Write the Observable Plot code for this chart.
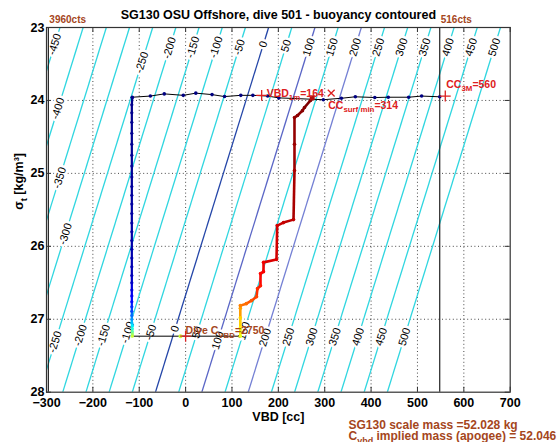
<!DOCTYPE html>
<html><head><meta charset="utf-8">
<script src="https://cdn.jsdelivr.net/npm/d3@7"></script>
<script src="https://cdn.jsdelivr.net/npm/@observablehq/plot@0.6"></script>
<style>html,body{margin:0;padding:0;background:#fff;overflow:hidden} svg{display:block}</style>
</head><body><div id="chart"></div>
<script>
// ---------- data ----------
const titleText = "SG130 OSU Offshore, dive 501 - buoyancy contoured";
const xTicks = [-300,-200,-100,0,100,200,300,400,500,600,700];
const yTicks = [23,24,25,26,27,28];

// buoyancy contours: VBD [cc] where each contour crosses sigma=23 and sigma=28
const contourLevels   = [-450,-400,-350,-300,-250,-200,-150,-100,-50,0,50,100,150,200,250,300,350,400,450,500];
const contourVBDAt23  = [-271,-221,-171,-121,-71,-21,29,79,129,179,229,279,329,379,429,479,529,579,629,679];
const contourVBDAt28  = [-515,-465,-415,-365,-315,-265,-215,-165,-115,-65,-15,35,85,135,185,235,285,335,385,435];
const blueLevels = [0,100,200];
const blueColors = ["#2446a8","#5a66c6","#7480d4"];

// contour label placements (level, sigma along that contour)
const labelLevels = [-450,-400,-350,-300,-250,-250,-200,-200,-150,-150,-100,-100,-50,-50,0,0,50,50,100,100,150,150,200,200,250,250,300,300,350,350,400,400,450,450,500,500];
const labelSigma  = [23.23,24.11,25.06,25.83,23.48,27.31,23.28,27.22,23.27,27.22,23.27,27.18,23.27,27.18,23.23,27.13,23.25,27.18,23.27,27.29,23.27,27.16,23.27,27.25,23.27,27.24,23.27,27.24,23.27,27.24,23.27,27.24,23.27,27.24,23.27,27.24];

// pot count limits
const limitVBD = [-296, 548];
const limitText = ["3960cts", "516cts"];

// surface samples (before dive), in time order
const surfaceVBD   = [548,509,481,437,408,366,336,297,201,177,145,119,84,57,22,-5,-46,-76,-115];
const surfaceSigma = [23.95,23.94,23.956,23.956,23.96,23.95,23.97,23.99,23.965,23.94,23.93,23.93,23.947,23.92,23.90,23.93,23.91,23.94,23.956];

// descent samples
const descentVBD   = [-115,-116,-116,-116,-116,-116,-116,-116,-116,-116,-116,-116,-116,-116,-116,-116,-116,-116,-116,-116,-116,-116,-116,-116,-116,-116,-116,-116,-116,-115,-115,-115,-115,-115];
const descentSigma = [23.96,24.06,24.17,24.3,24.45,24.6,24.75,24.9,25.05,25.18,25.3,25.42,25.55,25.68,25.8,25.92,26.04,26.16,26.28,26.4,26.5,26.6,26.68,26.76,26.83,26.89,26.95,27.0,27.05,27.09,27.13,27.17,27.2,27.232];
const descentTime  = [0.01,0.012,0.014,0.016,0.018,0.02,0.022,0.024,0.026,0.028,0.03,0.032,0.034,0.036,0.038,0.04,0.042,0.045,0.05,0.055,0.07,0.09,0.11,0.13,0.16,0.19,0.23,0.27,0.31,0.36,0.41,0.46,0.52,0.57];

// apogee pump
const apogeeVBD = [-115, 118];
const apogeeSigma = 27.232;
const apogeeDotVBD = -11;

// ascent samples
const ascentVBD   = [118,118,118,118,118,131,142,153,155,161.5,161.5,168,168,196,197.5,211,232.7,234.8,234.8,234.8,241.3,252,256.4,269.3,273];
const ascentSigma = [27.232,27.12,26.98,26.85,26.813,26.786,26.745,26.69,26.58,26.54,26.374,26.347,26.22,26.18,25.716,25.675,25.634,24.962,24.6,24.235,24.207,24.14,24.097,24.0,23.964];
const ascentTime  = [0.6,0.63,0.67,0.72,0.75,0.77,0.79,0.81,0.83,0.85,0.87,0.88,0.89,0.91,0.92,0.93,0.94,0.96,0.97,0.98,0.985,0.99,0.995,1,1];

// annotations
const vbd1m = 164, vbd1mSigma = 23.93;
const ccSurfMin = 314, ccSurfMinSigma = 23.9;
const cc3M = 560, cc3MSigma = 23.94;
const diveCvbd = 2750, diveCvbdVBD = 0;
const scaleMass = "52.028", impliedMass = "52.046";

// ---------- build ----------
const jetStops = ["#000080","#0000ff","#0080ff","#00ffff","#80ff80","#ffff00","#ff8000","#ff0000","#800000"];
const jet = d3.piecewise(d3.interpolateRgb, jetStops);

const contours = contourLevels.map((L,i) => ({level: L, x1: contourVBDAt23[i], x2: contourVBDAt28[i]}));
const cyanContours = contours.filter(d => !blueLevels.includes(d.level));
const labels = labelLevels.map((L,i) => {
  const c = contours.find(d => d.level === L);
  const s = labelSigma[i];
  return {level: L, text: String(L), sigma: s, vbd: c.x1 + (c.x2 - c.x1) * (s - 23) / 5};
});

const surface = surfaceVBD.map((v,i) => ({vbd: v, sigma: surfaceSigma[i], t: 0}));
const descent = descentVBD.map((v,i) => ({vbd: v, sigma: descentSigma[i], t: descentTime[i]}));
const ascent  = ascentVBD.map((v,i) => ({vbd: v, sigma: ascentSigma[i], t: ascentTime[i]}));
const blackPath = [...surface, ...descent, {vbd: apogeeVBD[1], sigma: apogeeSigma}];
const segs = arr => d3.pairs(arr).map(([a,b]) => ({x1: a.vbd, y1: a.sigma, x2: b.vbd, y2: b.sigma, t: b.t}));

const W = 559, H = 442, mL = 46, mR = 49.3, mT = 27, mB = 50.3;
const fw = W - mL - mR, fh = H - mT - mB;
// on-screen angle of the contour lines (text reads upward along them)
const dxPx = (contourVBDAt23[0] - contourVBDAt28[0]) / 1000 * fw;
const rot = -Math.atan2(fh, dxPx) * 180 / Math.PI;

const red = "#dd2020", brown = "#a5461c";
const annoFont = {fontSize: 10.5, fontWeight: "bold"};

const plot = Plot.plot({
  width: W, height: H,
  marginLeft: mL, marginRight: mR, marginTop: mT, marginBottom: mB,
  x: {domain: [-300, 700], ticks: xTicks, label: null},
  y: {domain: [23, 28], reverse: true, ticks: yTicks, label: null},
  color: {type: "linear", domain: [0, 1], interpolate: jet},
  style: {fontFamily: "'Liberation Sans', Arial, Helvetica, sans-serif", fontSize: "12.5px", fontWeight: "bold", background: "white", color: "black"},
  marks: [
    // grid
    Plot.ruleX(xTicks.slice(1, -1), {stroke: "#333", strokeDasharray: "1,2.6", strokeWidth: 0.9}),
    Plot.ruleY(yTicks.slice(1, -1), {stroke: "#333", strokeDasharray: "1,2.6", strokeWidth: 0.9}),
    // contours
    Plot.link(cyanContours, {x1: "x1", y1: () => 23, x2: "x2", y2: () => 28, stroke: "#30d6e0", strokeWidth: 1.3, clip: true}),
    ...blueLevels.map((L, i) => Plot.link(contours.filter(d => d.level === L), {x1: "x1", y1: () => 23, x2: "x2", y2: () => 28, stroke: blueColors[i], strokeWidth: 1.3, clip: true})),
    // contour labels
    Plot.text(labels, {x: "vbd", y: "sigma", text: "text", rotate: rot, fontSize: 11, fontWeight: "normal", fill: "white", stroke: "white", strokeWidth: 5, clip: true}),
    Plot.text(labels, {x: "vbd", y: "sigma", text: "text", rotate: rot, fontSize: 11, fontWeight: "normal", fill: "black", clip: true}),
    // count limits
    Plot.ruleX(limitVBD, {stroke: "#222", strokeWidth: 1.2}),
    Plot.text(limitText, {x: (d, i) => limitVBD[i], frameAnchor: "top", text: d => d, textAnchor: "start", lineAnchor: "bottom", dy: -5, dx: 1, fill: brown, fontSize: 10, fontWeight: "bold"}),
    // trace
    Plot.line(blackPath, {x: "vbd", y: "sigma", stroke: "black", strokeWidth: 1}),
    Plot.link(segs(descent), {x1: "x1", y1: "y1", x2: "x2", y2: "y2", stroke: "t", strokeWidth: 2.2}),
    Plot.link(segs(ascent), {x1: "x1", y1: "y1", x2: "x2", y2: "y2", stroke: "t", strokeWidth: 2.6}),
    Plot.dot(surface, {x: "vbd", y: "sigma", r: 1.8, fill: "t", stroke: null}),
    Plot.dot(descent, {x: "vbd", y: "sigma", r: 1.6, fill: "t", stroke: null}),
    Plot.dot(ascent, {x: "vbd", y: "sigma", r: 1.8, fill: "t", stroke: null}),
    Plot.dot([{vbd: apogeeDotVBD, sigma: apogeeSigma, t: 0.57}], {x: "vbd", y: "sigma", r: 2, fill: "t"}),
    Plot.dot([ascent[ascent.length - 1]], {x: "vbd", y: "sigma", r: 2.8, symbol: "square", fill: "#b01010"}),
    // markers
    Plot.dot([[vbd1m, vbd1mSigma], [cc3M, cc3MSigma]], {x: d => d[0], y: d => d[1], symbol: "plus", r: 3.6, stroke: red, strokeWidth: 1.3}),
    Plot.dot([[ccSurfMin, ccSurfMinSigma]], {x: d => d[0], y: d => d[1], symbol: "times", r: 3.2, stroke: red, strokeWidth: 1.3}),
    Plot.dot([[diveCvbdVBD, apogeeSigma]], {x: d => d[0], y: d => d[1], symbol: "plus", r: 3.6, stroke: red, strokeWidth: 1.3}),
    // annotation texts
    Plot.text([`VBD_{1m}=${vbd1m}`], {x: () => vbd1m, y: () => vbd1mSigma, textAnchor: "start", lineAnchor: "bottom", dx: 5, dy: 1.5, fill: red, ...annoFont}),
    Plot.text([`CC_{surf min}=${ccSurfMin}`], {x: () => ccSurfMin, y: () => ccSurfMinSigma, textAnchor: "start", lineAnchor: "bottom", dx: -3, dy: 15.7, fill: red, ...annoFont}),
    Plot.text([`CC_{3M}=${cc3M}`], {x: () => cc3M, y: () => cc3MSigma, textAnchor: "start", lineAnchor: "bottom", dx: 1, dy: -8, fill: red, ...annoFont}),
    Plot.text([`Dive C_{VBD}=${diveCvbd}`], {x: () => diveCvbdVBD, y: () => apogeeSigma, textAnchor: "start", lineAnchor: "bottom", dx: 0, dy: -2, fill: brown, ...annoFont}),
    // frame + inward ticks
    Plot.frame({stroke: "#333", strokeWidth: 1.2}),
    Plot.ruleX(xTicks, {insetTop: fh - 5, stroke: "#333"}),
    Plot.ruleX(xTicks, {insetBottom: fh - 5, stroke: "#333"}),
    Plot.ruleY(yTicks, {insetRight: fw - 5, stroke: "#333"}),
    Plot.ruleY(yTicks, {insetLeft: fw - 5, stroke: "#333"}),
    // axes
    Plot.axisX({ticks: xTicks, tickSize: 0, tickPadding: 6, label: null}),
    Plot.axisY({ticks: yTicks, tickFormat: d => String(d), tickSize: 0, tickPadding: 2, label: null}),
    // titles and labels
    Plot.text([titleText], {frameAnchor: "top", lineAnchor: "bottom", dy: -9, fontSize: 12.5, fontWeight: "bold"}),
    Plot.text(["VBD [cc]"], {frameAnchor: "bottom", lineAnchor: "bottom", dy: 28.3, fontSize: 12.5, fontWeight: "bold"}),
    Plot.text(["σ_{t} [kg/m³]"], {frameAnchor: "left", rotate: -90, dx: -28, fontSize: 12.5, fontWeight: "bold"}),
    Plot.text([`SG130 scale mass =${scaleMass} kg`], {frameAnchor: "bottom-right", textAnchor: "start", lineAnchor: "bottom", dx: 348 - (W - mR), dy: 37, fill: brown, fontSize: 12, fontWeight: "bold"}),
    Plot.text([`C_{vbd} implied mass (apogee) = ${impliedMass}`], {frameAnchor: "bottom-right", textAnchor: "start", lineAnchor: "bottom", dx: 348 - (W - mR), dy: 48, fill: brown, fontSize: 12, fontWeight: "bold"})
  ]
});
document.getElementById("chart").appendChild(plot);

// subscripts / superscripts in text
function richify(svg) {
  svg.querySelectorAll("text").forEach(el => {
    const s = el.textContent;
    if (!/[_^]\{/.test(s)) return;
    const fs = parseFloat(getComputedStyle(el).fontSize) || 11;
    el.textContent = "";
    const re = /([_^])\{([^}]*)\}/g;
    let last = 0, m, cur = 0;
    const add = (txt, off, small) => {
      const t = document.createElementNS("http://www.w3.org/2000/svg", "tspan");
      t.textContent = txt;
      const dy = off - cur;
      if (dy) t.setAttribute("dy", dy);
      if (small) t.setAttribute("font-size", fs * 0.75);
      cur = off;
      el.appendChild(t);
    };
    while ((m = re.exec(s))) {
      if (m.index > last) add(s.slice(last, m.index), 0, false);
      add(m[2], m[1] === "_" ? fs * 0.32 : -fs * 0.4, true);
      last = re.lastIndex;
    }
    if (last < s.length) add(s.slice(last), 0, false);
  });
}
richify(plot);
</script>
</body></html>
